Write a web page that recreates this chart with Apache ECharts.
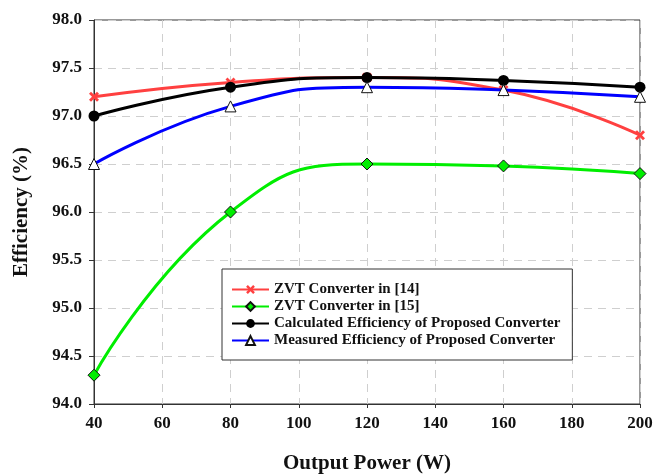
<!DOCTYPE html>
<html>
<head>
<meta charset="utf-8">
<script src="https://cdn.jsdelivr.net/npm/echarts@6/dist/echarts.min.js"></script>
<style>
  html, body { margin: 0; padding: 0; background: #fff; }
  #chart { width: 655px; height: 476px; }
</style>
</head>
<body>
<div id="chart"></div>
<script>
const power = [40, 80, 120, 160, 200]
const zvt14 = [97.2, 97.35, 97.4, 97.27, 96.8]
const zvt15 = [94.3, 96.0, 96.5, 96.48, 96.4]
const calculated = [97.0, 97.3, 97.4, 97.37, 97.3]
const measured = [96.5, 97.1, 97.3, 97.27, 97.2]

const pairs = ys => power.map((x, i) => [x, ys[i]])
const crossPath = 'path://M2,0 L5,3 L8,0 L10,2 L7,5 L10,8 L8,10 L5,7 L2,10 L0,8 L3,5 L0,2 Z'
const font = 'Liberation Serif'

const chart = echarts.init(document.getElementById('chart'))
const option = {
  animation: false,
  textStyle: { fontFamily: font },
  grid: {
    left: 94,
    right: 15,
    top: 20,
    bottom: 72,
    outerBoundsMode: 'none',
    show: true,
    borderColor: '#333',
    borderWidth: 1
  },
  legend: {
    orient: 'vertical',
    left: 222,
    top: 269,
    padding: [13, 12, 12, 9],
    itemGap: 2,
    itemWidth: 37,
    itemHeight: 11,
    borderColor: '#333',
    borderWidth: 1,
    backgroundColor: '#fff',
    textStyle: { fontFamily: font, fontWeight: 'bold', fontSize: 15, color: '#111' },
    data: [
      'ZVT Converter in [14]',
      'ZVT Converter in [15]',
      'Calculated Efficiency of Proposed Converter',
      'Measured Efficiency of Proposed Converter'
    ]
  },
  xAxis: {
    type: 'value',
    min: 40,
    max: 200,
    interval: 20,
    name: 'Output Power (W)',
    nameLocation: 'middle',
    nameGap: 49,
    nameTextStyle: { fontFamily: font, fontWeight: 'bold', fontSize: 21, color: '#111' },
    axisLine: { lineStyle: { color: '#333' } },
    axisTick: { length: 4, lineStyle: { color: '#333' } },
    axisLabel: { fontFamily: font, fontWeight: 'bold', fontSize: 17, color: '#111', margin: 11 },
    splitLine: { show: true, lineStyle: { type: [8, 6], color: '#cfcfcf' } }
  },
  yAxis: {
    type: 'value',
    min: 94,
    max: 98,
    interval: 0.5,
    name: 'Efficiency (%)',
    nameLocation: 'middle',
    nameGap: 62,
    nameTextStyle: { fontFamily: font, fontWeight: 'bold', fontSize: 21, color: '#111' },
    axisLine: { show: true, lineStyle: { color: '#333' } },
    axisTick: { show: true, length: 5, lineStyle: { color: '#333' } },
    axisLabel: {
      fontFamily: font, fontWeight: 'bold', fontSize: 17, color: '#111', margin: 12,
      formatter: v => v.toFixed(1)
    },
    splitLine: { show: true, lineStyle: { type: [8, 6], color: '#cfcfcf' } }
  },
  series: [
    {
      name: 'ZVT Converter in [14]',
      type: 'line',
      smooth: true,
      data: pairs(zvt14),
      symbol: crossPath,
      symbolSize: 10,
      itemStyle: { color: '#ff4040' },
      lineStyle: { width: 3, color: '#ff4040' },
      z: 3
    },
    {
      name: 'ZVT Converter in [15]',
      type: 'line',
      smooth: true,
      data: pairs(zvt15),
      symbol: 'diamond',
      symbolSize: 12,
      itemStyle: { color: '#00ee00', borderColor: '#111', borderWidth: 1 },
      lineStyle: { width: 3, color: '#00ee00' },
      z: 2
    },
    {
      name: 'Calculated Efficiency of Proposed Converter',
      type: 'line',
      smooth: true,
      data: pairs(calculated),
      symbol: 'circle',
      symbolSize: 11,
      itemStyle: { color: '#000' },
      lineStyle: { width: 3, color: '#000' },
      z: 4
    },
    {
      name: 'Measured Efficiency of Proposed Converter',
      type: 'line',
      smooth: true,
      data: pairs(measured),
      symbol: 'triangle',
      symbolSize: 11,
      itemStyle: { color: '#fff', borderColor: '#111', borderWidth: 1 },
      lineStyle: { width: 3, color: '#0000ff' },
      z: 5
    }
  ]
}
chart.setOption(option)
</script>
</body>
</html>
